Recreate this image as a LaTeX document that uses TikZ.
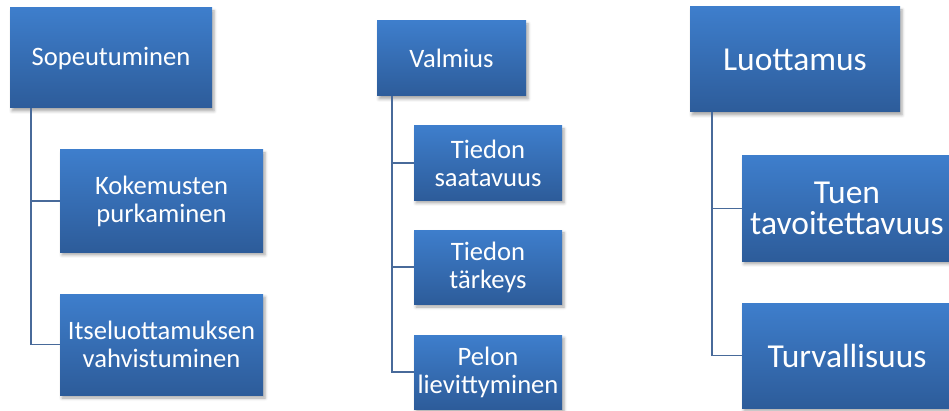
\documentclass[tikz,border=0pt]{standalone}
\usepackage{fontspec}
\setmainfont{Carlito}
\usetikzlibrary{shadows.blur}
\definecolor{ylhaalla}{RGB}{62,126,204}
\definecolor{alhaalla}{RGB}{45,92,154}
\definecolor{viiva}{RGB}{72,106,154}
\begin{document}
\begin{tikzpicture}[x=1pt,y=1pt,
	laatikko/.style={inner sep=0pt, align=center, text=white, top color=ylhaalla, bottom color=alhaalla,
		blur shadow={shadow xshift=2pt, shadow yshift=-3pt, shadow blur radius=3pt, shadow opacity=35}},
	pieni/.style={font=\fontsize{26.6}{28}\selectfont},
	iso/.style={font=\fontsize{33.5}{31}\selectfont},
	haara/.style={draw=viiva, line width=1.5pt}]
	\useasboundingbox (0,0) rectangle (949,410);
	% Sopeutuminen
	\node [laatikko, pieni, minimum width=202, minimum height=100] (sop) at (111,352) {Sopeutuminen};
	\node [laatikko, pieni, minimum width=203, minimum height=102] (kok) at (161.5,209) {Kokemusten\\purkaminen};
	\node [laatikko, pieni, minimum width=203, minimum height=101] (its) at (161.5,65.5) {Itseluottamuksen\\vahvistuminen};
	\draw [haara] ([xshift=21pt]sop.south west) |- (kok.west);
	\draw [haara] ([xshift=21pt]sop.south west) |- (its.west);
	% Valmius
	\node [laatikko, pieni, minimum width=149, minimum height=75] (val) at (451.5,351.5) {Valmius};
	\node [laatikko, pieni, minimum width=148, minimum height=74] (tsa) at (488,247) {Tiedon\\saatavuus};
	\node [laatikko, pieni, minimum width=148, minimum height=74] (tta) at (488,143) {Tiedon\\tärkeys};
	\node [laatikko, pieni, minimum width=148, minimum height=74] (pel) at (488,38) {Pelon\\lievittyminen};
	\draw [haara] ([xshift=15pt]val.south west) |- (tsa.west);
	\draw [haara] ([xshift=15pt]val.south west) |- (tta.west);
	\draw [haara] ([xshift=15pt]val.south west) |- (pel.west);
	% Luottamus
	\node [laatikko, iso, minimum width=210, minimum height=105] (luo) at (795,350.5) {Luottamus};
	\node [laatikko, iso, minimum width=210, minimum height=105] (tue) at (847,201.5) {Tuen\\tavoitettavuus};
	\node [laatikko, iso, minimum width=210, minimum height=105] (tur) at (847,54.5) {Turvallisuus};
	\draw [haara] ([xshift=22pt]luo.south west) |- (tue.west);
	\draw [haara] ([xshift=22pt]luo.south west) |- (tur.west);
\end{tikzpicture}
\end{document}
